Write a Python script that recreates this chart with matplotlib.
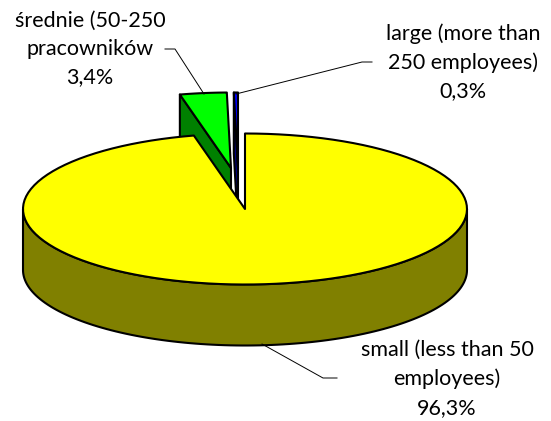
import numpy as np
from matplotlib import pyplot as plt
from matplotlib.patches import Polygon

plt.rcParams['font.family'] = ['Lato', 'DejaVu Sans']

# values in percent, clockwise from 12 o'clock
labels = ['small (less than 50\nemployees)\n96,3%',
          'średnie (50-250\npracowników\n3,4%',
          'large (more than\n250 employees)\n0,3%']
shares = [96.3, 3.4, 0.3]

top_colors = ['#ffff00', '#00ff00', '#0000ff']
side_colors = ['#808000', '#008000', '#000080']
# apex of every slice, picture pixels
apex = [(245, 209), (231, 168), (238, 168)]
label_pos = [(447, 379), (90, 49), (463, 62)]
leaders = [[(262, 344), (323, 378), (337, 378)],
           [(204, 94), (175, 49), (165, 49)],
           [(236, 94), (362, 62), (372, 62)]]

rx, ry, depth = 222, 75.5, 61


def rim(a0, a1, cx, cy, n=120):
    t = np.radians(np.linspace(a0, a1, n))
    return np.column_stack([cx + rx * np.sin(t), cy - ry * np.cos(t)])


fig = plt.figure(figsize=(5.51, 4.21), dpi=100)
ax = fig.add_axes([0, 0, 1, 1])
ax.set_xlim(0, 551)
ax.set_ylim(421, 0)
ax.axis('off')

edges = np.concatenate([[0], np.cumsum(shares)]) / sum(shares) * 360
style = dict(edgecolor='black', linewidth=1.5, joinstyle='round')

# exploded slices first, the big one covers their lower walls
for i in [1, 2]:
    a0, a1 = edges[i], edges[i + 1]
    cx, cy = apex[i]
    arc = rim(a0, a1, cx, cy)
    wall = [(cx, cy), arc[0], arc[0] + [0, depth], (cx, cy + depth)]
    ax.add_patch(Polygon(wall, facecolor=side_colors[i], **style))
    ax.add_patch(Polygon(np.vstack([[(cx, cy)], arc]), facecolor=top_colors[i], **style))

a0, a1 = edges[0], edges[1]
cx, cy = apex[0]
front = rim(90, 270, cx, cy)
ax.add_patch(Polygon(np.vstack([front, front[::-1] + [0, depth]]),
                     facecolor=side_colors[0], **style))
ax.add_patch(Polygon(np.vstack([[(cx, cy)], rim(a0, a1, cx, cy)]),
                     facecolor=top_colors[0], **style))

for pts in leaders:
    xs, ys = zip(*pts)
    ax.plot(xs, ys, color='black', lw=0.7)

for txt, (x, y) in zip(labels, label_pos):
    ax.text(x, y, txt, ha='center', va='center', ma='center',
            fontsize=15.5, linespacing=1.52, color='black')

fig.savefig('out.png', dpi=100)
